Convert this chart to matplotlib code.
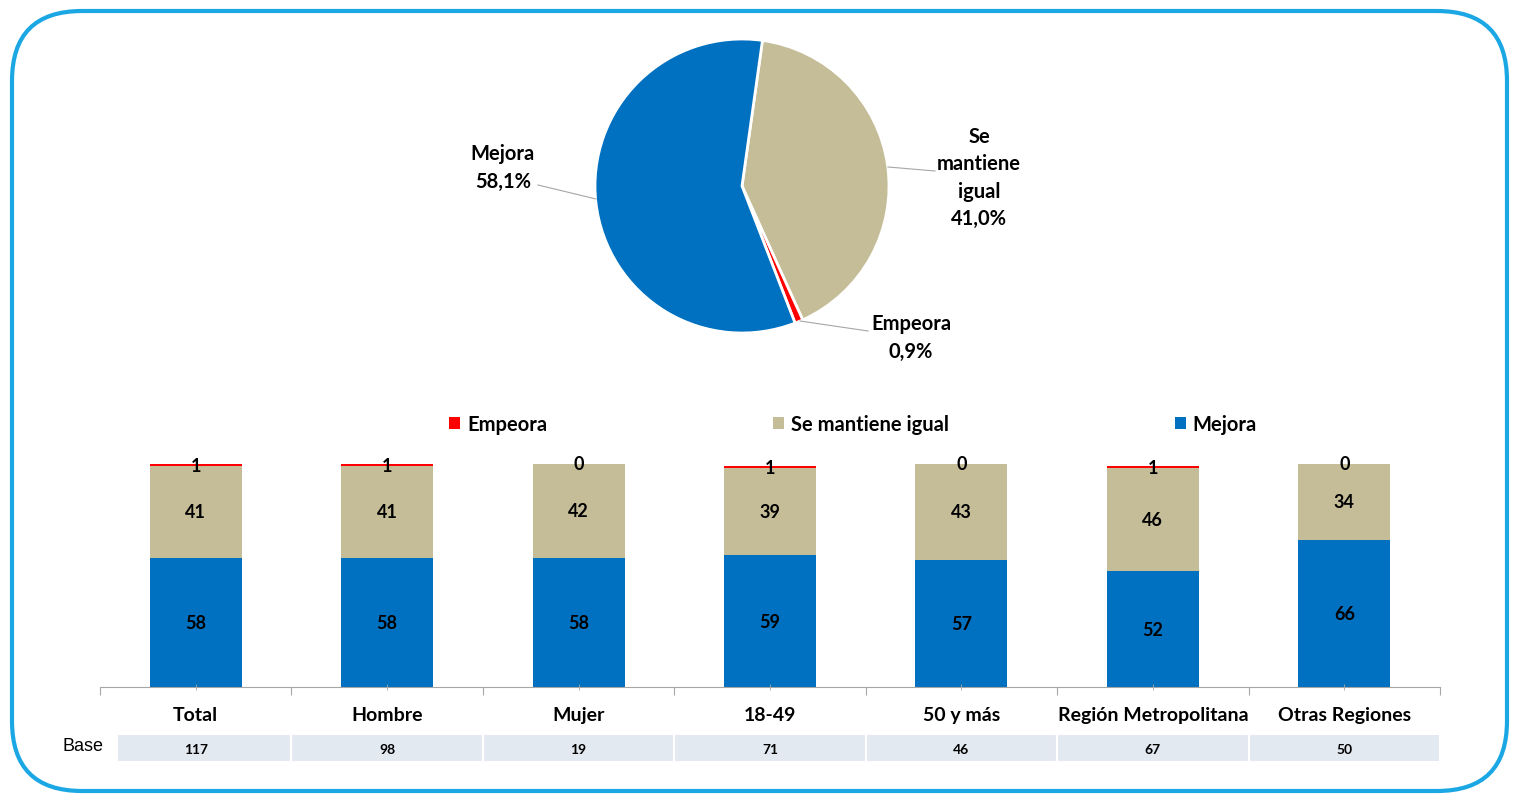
import matplotlib
matplotlib.use("Agg")
import matplotlib.pyplot as plt
import matplotlib.patches as mpatches
import numpy as np

plt.rcParams["font.family"] = ["Lato", "DejaVu Sans"]

# pie data (clockwise from top)
pie_labels = ["Se\nmantiene\nigual", "Empeora", "Mejora"]
pie_values = [41.0, 0.9, 58.1]
pie_text = ["41,0%", "0,9%", "58,1%"]

# stacked bars
categories = ["Total", "Hombre", "Mujer", "18-49", "50 y más",
              "Región Metropolitana", "Otras Regiones"]
mejora = [58, 58, 58, 59, 57, 52, 66]
se_mantiene = [41, 41, 42, 39, 43, 46, 34]
empeora = [1, 1, 0, 1, 0, 1, 0]
base = [117, 98, 19, 71, 46, 67, 50]

c_blue = "#0070C0"
c_tan = "#C4BD97"
c_red = "#FF0000"
W, H = 1519, 804

fig = plt.figure(figsize=(W / 100, H / 100), dpi=100)

# overlay axes in pixel units (y up)
ov = fig.add_axes([0, 0, 1, 1])
ov.axis("off")

border = mpatches.FancyBboxPatch((12, 12), W - 24, H - 24,
                                 boxstyle="round,pad=0,rounding_size=70",
                                 fill=False, edgecolor="#1AA7E4", linewidth=3)
ov.add_patch(border)

# pie
cx, cy, r = 742, H - 187, 147
wedges, _ = ov.pie(pie_values, colors=[c_tan, c_red, c_blue], startangle=82,
                   counterclock=False, center=(cx, cy), radius=r,
                   wedgeprops=dict(edgecolor="white", linewidth=2))
ov.set_xlim(0, W)
ov.set_ylim(0, H)
ov.set_aspect("equal")

lab_pos = [(979, H - 178), (911, H - 338), (503, H - 168)]
line_pts = [((935, H - 172), (888, H - 168)),
            ((868, H - 332), (800, H - 322)),
            ((538, H - 186), (596, H - 200))]
for name, pct, (lx, ly), (p0, p1) in zip(pie_labels, pie_text, lab_pos, line_pts):
    ov.text(lx, ly, f"{name}\n{pct}", ha="center", va="center",
            fontsize=14.5, fontweight="bold", linespacing=1.47)
    ov.plot([p0[0], p1[0]], [p0[1], p1[1]], color="#A6A6A6", lw=0.8)

# bar axes
x = np.arange(len(categories))
ax = fig.add_axes([100 / W, 1 - 688 / H, 1340 / W, 223 / H])
ax.patch.set_alpha(0)
b1 = ax.bar(x, mejora, width=0.48, color=c_blue, label="Mejora")
b2 = ax.bar(x, se_mantiene, width=0.48, bottom=mejora, color=c_tan,
            label="Se mantiene igual")
bottom2 = np.array(mejora) + np.array(se_mantiene)
b3 = ax.bar(x, empeora, width=0.48, bottom=bottom2, color=c_red, label="Empeora")

for bars, vals, bots in [(b1, mejora, np.zeros(len(x))),
                         (b2, se_mantiene, np.array(mejora)),
                         (b3, empeora, bottom2)]:
    for xi, v, b0 in zip(x, vals, bots):
        ax.text(xi, b0 + v / 2, f"{v}", ha="center", va="center",
                fontsize=13, fontweight="bold", color="black")

ax.set_xlim(-0.5, len(x) - 0.5)
ax.set_ylim(0, 100)
for s in ["top", "right", "left"]:
    ax.spines[s].set_visible(False)
ax.spines["bottom"].set_color("#A6A6A6")
ax.set_yticks([])
ax.set_xticks(np.arange(-0.5, len(x)))
ax.set_xticks(x, minor=True)
ax.tick_params(axis="x", which="major", length=6, color="#A6A6A6", labelbottom=False)
ax.tick_params(axis="x", which="minor", length=5, color="#A6A6A6", direction="inout")
ax.set_xticklabels(categories, minor=True, fontsize=14, fontweight="bold")
ax.tick_params(axis="x", which="minor", pad=11)

leg = ax.legend(handles=[b3, b2, b1], loc="center", bbox_to_anchor=(0.562, 1.18),
                ncol=3, frameon=False, fontsize=14.5, handlelength=0.55,
                handleheight=0.55, handletextpad=0.35, columnspacing=11.2)
for t in leg.get_texts():
    t.set_fontweight("bold")

# base row
axb = fig.add_axes([100 / W, 1 - 763 / H, 1340 / W, 28 / H])
axb.set_xlim(-0.5, len(x) - 0.5)
axb.set_ylim(0, 1)
axb.axis("off")
lefts = x - 0.5
lefts[0] = -0.41
widths = (x + 0.5) - lefts
axb.bar(lefts, 1, width=widths, align="edge", color="#E3E9F1",
        edgecolor="white", linewidth=1.5)
for xi, v in zip(x, base):
    axb.text(xi, 0.45, f"{v}", ha="center", va="center",
             fontsize=10, fontweight="bold")
fig.text(83 / W, 1 - 747 / H, "Base", ha="center", va="center",
         fontsize=13, family=["Liberation Sans Narrow", "Liberation Sans", "DejaVu Sans"])

fig.savefig("out.png", dpi=100)
